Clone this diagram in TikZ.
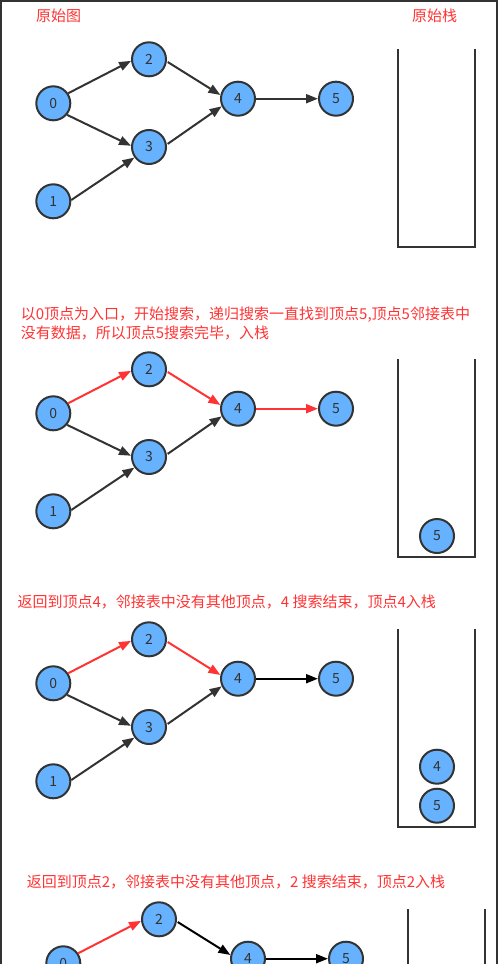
\documentclass[tikz,border=0pt]{standalone}
\usepackage{fontspec}
\setmainfont{Noto Sans CJK SC}
\usetikzlibrary{arrows.meta}
\definecolor{nodefill}{HTML}{66B2FF}
\definecolor{dark}{HTML}{333333}
\definecolor{hl}{HTML}{FF3333}
\tikzset{
  vtx/.style={circle, draw=dark, fill=nodefill, line width=2pt, minimum size=34pt, inner sep=0pt,
              font=\fontsize{14}{14}\selectfont, text=dark},
  garr/.style={draw=dark, line width=2pt, -{Triangle[length=12pt,width=9pt]}},
  rarr/.style={garr, draw=hl},
  barr/.style={garr, draw=black},
  lbl/.style={anchor=base west, text=hl, font=\fontsize{15}{15}\selectfont, inner sep=0pt},
  wall/.style={draw=dark, line width=2pt},
}
\begin{document}
\begin{tikzpicture}[x=1pt, y=-1pt]
\useasboundingbox (0,0) rectangle (499,964);
\clip (0,0) rectangle (499,964);
% frame
\draw[wall] (1,970) -- (1,1) -- (496.7,1) -- (496.7,970);

% ---------- section 1 ----------
\node[lbl] (t1a) at (36,21.4) {原始图};
\node[lbl] (t1b) at (412,21.4) {原始栈};
\node[vtx] (a0) at (53.3,103.3) {0};
\node[vtx] (a1) at (53.3,201.3) {1};
\node[vtx] (a2) at (149,59.3) {2};
\node[vtx] (a3) at (149,147) {3};
\node[vtx] (a4) at (238,98.7) {4};
\node[vtx] (a5) at (336,98.7) {5};
\draw[garr] (a0.34) -- (a2.185);
\draw[garr] (a0.-40) -- (a3.176);
\draw[garr] (a1.4) -- (a3.216);
\draw[garr, shorten <=1pt] (a2.-7) -- (a4.168);
\draw[garr, shorten <=1pt] (a3.8) -- (a4.205);
\draw[garr] (a4) -- (a5);
\draw[wall] (398.3,49.3) |- (474.7,246.7) -- (474.7,49.3);

% ---------- section 2 ----------
\node[lbl] (t2a) at (20.7,319) {以0顶点为入口，开始搜索，递归搜索一直找到顶点5,顶点5邻接表中};
\node[lbl] (t2b) at (20.7,338.4) {没有数据，所以顶点5搜索完毕，入栈};
\begin{scope}[shift={(0,310)}]
\node[vtx] (b0) at (53.3,103.3) {0};
\node[vtx] (b1) at (53.3,201.3) {1};
\node[vtx] (b2) at (149,59.3) {2};
\node[vtx] (b3) at (149,147) {3};
\node[vtx] (b4) at (238,98.7) {4};
\node[vtx] (b5) at (336,98.7) {5};
\draw[rarr] (b0.34) -- (b2.185);
\draw[garr] (b0.-40) -- (b3.176);
\draw[garr] (b1.4) -- (b3.216);
\draw[rarr, shorten <=1pt] (b2.-7) -- (b4.168);
\draw[garr, shorten <=1pt] (b3.8) -- (b4.205);
\draw[rarr] (b4) -- (b5);
\draw[wall] (398.3,49.3) |- (474.7,246.7) -- (474.7,49.3);
\node[vtx] (bs5) at (437,226) {5};
\end{scope}

% ---------- section 3 ----------
\node[lbl] (t3) at (17.3,607.4) {返回到顶点4，邻接表中没有其他顶点，4 搜索结束，顶点4入栈};
\begin{scope}[shift={(0,580)}]
\node[vtx] (c0) at (53.3,103.3) {0};
\node[vtx] (c1) at (53.3,201.3) {1};
\node[vtx] (c2) at (149,59.3) {2};
\node[vtx] (c3) at (149,147) {3};
\node[vtx] (c4) at (238,98.7) {4};
\node[vtx] (c5) at (336,98.7) {5};
\draw[rarr] (c0.34) -- (c2.185);
\draw[garr] (c0.-40) -- (c3.176);
\draw[garr] (c1.4) -- (c3.216);
\draw[rarr, shorten <=1pt] (c2.-7) -- (c4.168);
\draw[garr, shorten <=1pt] (c3.8) -- (c4.205);
\draw[barr] (c4) -- (c5);
\draw[wall] (398.3,49.3) |- (474.7,246.7) -- (474.7,49.3);
\node[vtx] (cs4) at (437,186.7) {4};
\node[vtx] (cs5) at (437,225.7) {5};
\end{scope}

% ---------- section 4 ----------
\node[lbl] (t4) at (26.7,887.4) {返回到顶点2，邻接表中没有其他顶点，2 搜索结束，顶点2入栈};
\begin{scope}[shift={(10,860)}]
\node[vtx] (d0) at (53.3,103.3) {0};
\node[vtx] (d2) at (149,59.3) {2};
\node[vtx] (d4) at (238,98.7) {4};
\node[vtx] (d5) at (336,98.7) {5};
\draw[rarr] (d0.34) -- (d2.185);
\draw[barr, shorten <=1pt] (d2.-7) -- (d4.168);
\draw[barr] (d4) -- (d5);
\draw[wall] (398.3,49.3) |- (474.7,246.7) -- (474.7,49.3);
\end{scope}
\end{tikzpicture}
\end{document}
